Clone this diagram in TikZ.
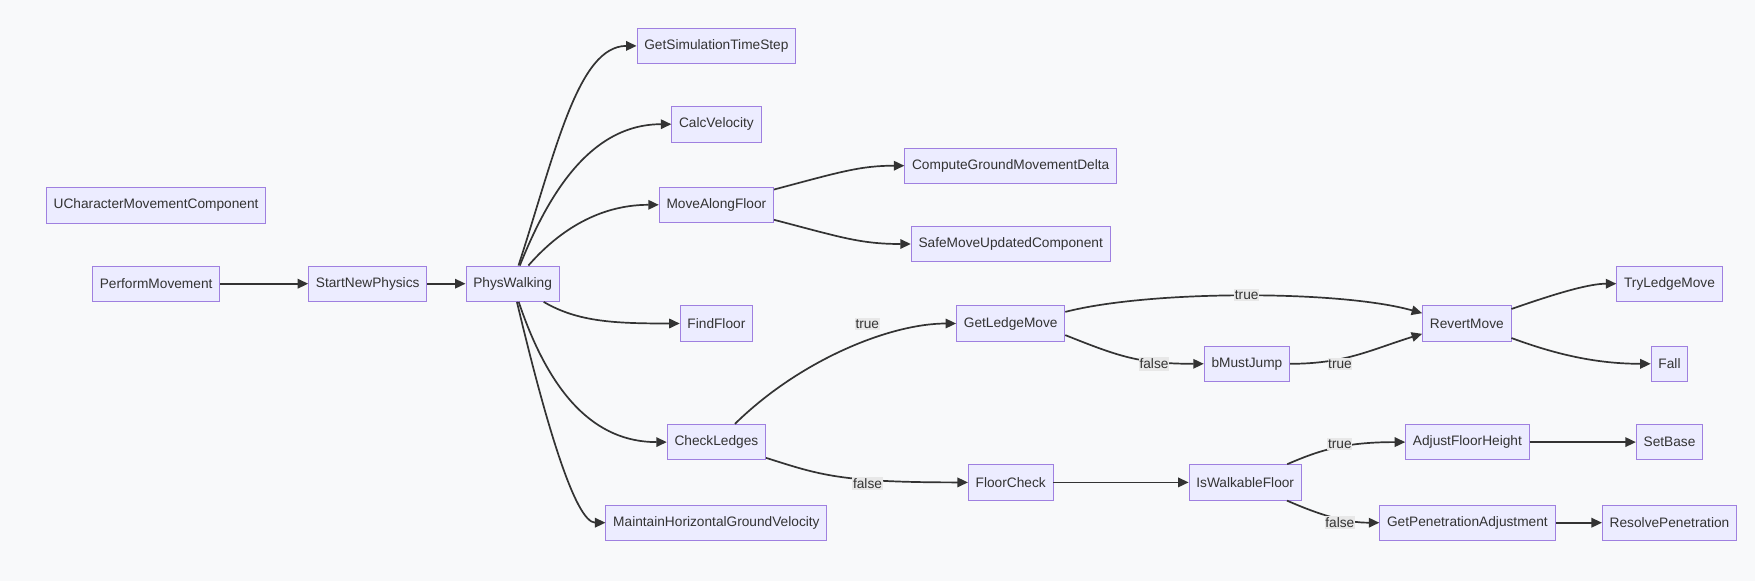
\documentclass[tikz,border=0pt]{standalone}
\usepackage{fontspec}
\setmainfont{Liberation Sans}
\usetikzlibrary{arrows.meta}

\definecolor{bgcol}{HTML}{F8F9FA}
\definecolor{nodefill}{HTML}{ECECFF}
\definecolor{nodeline}{HTML}{9F80E0}
\definecolor{linkcol}{HTML}{333333}
\definecolor{lblfill}{HTML}{E8E8E8}
\definecolor{txtcol}{HTML}{333333}

\begin{document}
\begin{tikzpicture}[x=1pt, y=-1pt,
    fnbox/.style={draw=nodeline, fill=nodefill, line width=0.9pt, rectangle,
        minimum height=35.5pt, inner xsep=7.3pt, text=txtcol,
        font=\fontsize{13.7}{16}\selectfont},
    link/.style={draw=linkcol, line width=1.7pt, -{Triangle[length=10.5pt,width=9.5pt]}},
    lbl/.style={fill=lblfill, text=txtcol, inner xsep=0.6pt, inner ysep=1.5pt,
        font=\fontsize{13.7}{16}\selectfont}]
\fill[bgcol] (0,0) rectangle (1755,581);

% left part
\node[fnbox] (ucmc) at (156.1,205.4) {UCharacterMovementComponent};
\node[fnbox] (perf) at (156.1,283.7) {PerformMovement};
\node[fnbox] (snp) at (367.7,283.7) {StartNewPhysics};
\node[fnbox] (pw) at (512.6,283.7) {PhysWalking};

% called from PhysWalking
\node[fnbox] (gsts) at (716.4,45.9) {GetSimulationTimeStep};
\node[fnbox] (calcv) at (716.4,124.2) {CalcVelocity};
\node[fnbox] (maf) at (716.4,204.8) {MoveAlongFloor};
\node[fnbox] (findf) at (716.4,323.5) {FindFloor};
\node[fnbox] (checkl) at (716.4,442.1) {CheckLedges};
\node[fnbox] (mhgv) at (716.4,522.7) {MaintainHorizontalGroundVelocity};

\node[fnbox] (cgmd) at (1010.7,165.7) {ComputeGroundMovementDelta};
\node[fnbox] (smuc) at (1010.7,244.0) {SafeMoveUpdatedComponent};
\node[fnbox] (glm) at (1010.7,323.5) {GetLedgeMove};
\node[fnbox] (floorc) at (1010.7,482.4) {FloorCheck};

% ledge handling
\node[fnbox] (bmj) at (1246.9,363.8) {bMustJump};
\node[fnbox] (revert) at (1466.8,323.5) {RevertMove};
\node[fnbox] (tlm) at (1669.5,283.7) {TryLedgeMove};
\node[fnbox] (fall) at (1669.5,363.8) {Fall};

% floor handling
\node[fnbox] (iwf) at (1245.2,482.4) {IsWalkableFloor};
\node[fnbox] (afh) at (1467.4,442.1) {AdjustFloorHeight};
\node[fnbox] (setbase) at (1669.5,442.1) {SetBase};
\node[fnbox] (gpa) at (1467.4,522.7) {GetPenetrationAdjustment};
\node[fnbox] (resolve) at (1669.5,522.7) {ResolvePenetration};

\draw[link] (perf) -- (snp);
\draw[link] (snp) -- (pw);

\draw[link] (pw) .. controls (556,150) and (578,45.9) .. (gsts);
\draw[link] (pw) .. controls (548,195) and (590,124.2) .. (calcv);
\draw[link] (pw) .. controls (555,235) and (595,204.8) .. (maf);
\draw[link] (pw) .. controls (578,322) and (615,323.5) .. (findf);
\draw[link] (pw) .. controls (550,395) and (595,442.1) .. (checkl);
\draw[link] (pw) .. controls (545,420) and (575,522.7) .. (mhgv);

\draw[link] (maf) .. controls (840,172) and (860,165.7) .. (cgmd);
\draw[link] (maf) .. controls (840,237) and (860,244) .. (smuc);

\draw[link] (checkl) .. controls (800,360) and (890,323.5) .. (glm);
\draw[link] (checkl) .. controls (820,475) and (840,482.4) .. (floorc);

\draw[link] (glm.12) .. controls (1150,290) and (1340,290) .. (revert.167);
\draw[link] (glm.-12) .. controls (1120,357) and (1140,363.8) .. (bmj);
\draw[link] (bmj) .. controls (1345,363.8) and (1370,350) .. (revert.193);
\draw[link] (revert.18) .. controls (1560,292) and (1590,283.7) .. (tlm);
\draw[link] (revert.-18) .. controls (1560,356) and (1600,363.8) .. (fall);

\draw[link] (floorc) -- (iwf);
\draw[link] (iwf) .. controls (1320,450) and (1345,442.1) .. (afh);
\draw[link] (iwf) .. controls (1320,515) and (1345,522.7) .. (gpa);
\draw[link] (afh) -- (setbase);
\draw[link] (gpa) -- (resolve);

% edge labels
\node[lbl] (ltA) at (867.3,323.8) {true};
\node[lbl] (lfA) at (867.5,483.5) {false};
\node[lbl] (ltB) at (1246.7,295) {true};
\node[lbl] (lfB) at (1154,364) {false};
\node[lbl] (ltC) at (1340,364) {true};
\node[lbl] (ltD) at (1339.8,444.4) {true};
\node[lbl] (lfD) at (1339.8,522.7) {false};
\end{tikzpicture}
\end{document}
